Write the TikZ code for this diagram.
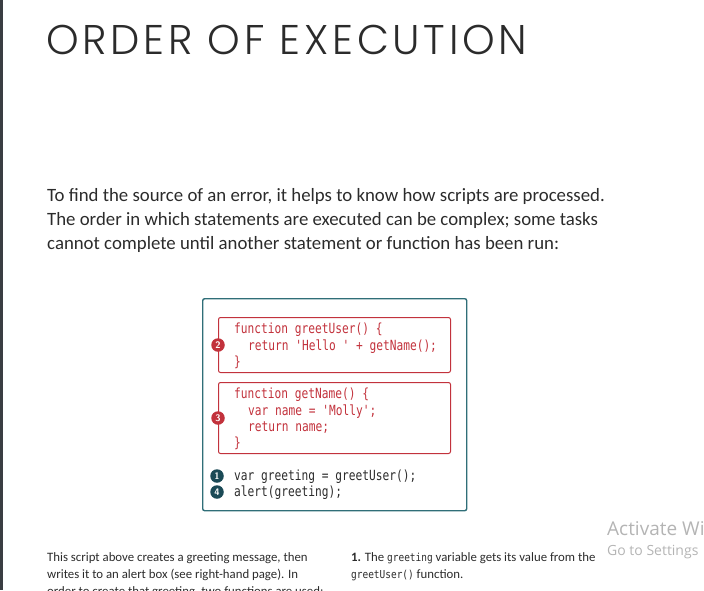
\documentclass[tikz,border=0pt]{standalone}
\usepackage{fontspec}
\setmainfont{Carlito}
\newfontfamily\titlefont{Poppins Light}[LetterSpace=9]
\newfontfamily\codefont{DejaVu Sans Mono}[FakeStretch=0.8]
\newfontfamily\notefont{DejaVu Sans Mono}[FakeStretch=0.86]
\newfontfamily\winfont{Open Sans}
\usetikzlibrary{positioning}

\definecolor{pagebar}{HTML}{3A3D42}
\definecolor{inkgray}{HTML}{2B2B2B}
\definecolor{framecol}{HTML}{2F6E78}
\definecolor{fnred}{HTML}{C2323C}
\definecolor{stepteal}{HTML}{1B4A56}
\definecolor{wingray}{HTML}{B4B4B4}

\begin{document}
\begin{tikzpicture}[
    x=1pt, y=-1pt,
    title/.style={anchor=base west, inner sep=0pt, text=inkgray, font=\titlefont\fontsize{41.5}{41.5}\selectfont},
    intro/.style={anchor=base west, inner sep=0pt, text=inkgray, font=\fontsize{18.8}{22}\selectfont},
    caption/.style={anchor=base west, inner sep=0pt, text=inkgray, font=\fontsize{12.8}{15}\selectfont},
    outerbox/.style={draw=framecol, line width=1.4pt, rounded corners=2pt, minimum width=264pt, minimum height=212pt, anchor=north west, inner sep=0pt},
    fnbox/.style={draw=fnred, line width=1pt, rounded corners=2pt, minimum width=232pt, anchor=north west, inner sep=0pt},
    stepnum/.style={circle, inner sep=0pt, minimum size=13.5pt, text=white, font=\sffamily\bfseries\fontsize{9.5}{9.5}\selectfont},
    code/.style={anchor=base west, inner sep=0pt, font=\codefont\fontsize{14}{14}\selectfont},
    watermark/.style={anchor=base west, inner sep=0pt, text=wingray, font=\winfont}
]
\useasboundingbox (0,0) rectangle (704,590);
\begin{scope}
\clip (0,0) rectangle (704,590);

% page edge
\fill[pagebar] (0,0) rectangle (3,590);

% heading and intro
\node[title] (heading) at (46,54) {ORDER OF EXECUTION};
\node[intro] (introa) at (47,201) {To find the source of an error, it helps to know how scripts are processed.};
\node[intro] (introb) at (47,225) {The order in which statements are executed can be complex; some tasks};
\node[intro] (introc) at (47,249) {cannot complete until another statement or function has been run:};

% code listing
\node[outerbox] (listing) at (202,298) {};
\node[fnbox, minimum height=55pt] (greetbox) at (218,317) {};
\node[fnbox, minimum height=71pt] (namebox) at (218,382) {};

\node[code, text=fnred] (ga) at (234,333) {function greetUser() \{};
\node[code, text=fnred] (gb) at (248,350) {return 'Hello ' + getName();};
\node[code, text=fnred] (gc) at (234,366) {\}};

\node[code, text=fnred] (na) at (234,398) {function getName() \{};
\node[code, text=fnred] (nb) at (248,415) {var name = 'Molly';};
\node[code, text=fnred] (nc) at (248,431) {return name;};
\node[code, text=fnred] (nd) at (234,447) {\}};

\node[code, text=inkgray] (va) at (234,480) {var greeting = greetUser();};
\node[code, text=inkgray] (vb) at (234,496) {alert(greeting);};

\node[stepnum, fill=fnred] (two) at (greetbox.west) {2};
\node[stepnum, fill=fnred] (three) at (namebox.west) {3};
\node[stepnum, fill=stepteal] (one) at (217,476) {1};
\node[stepnum, fill=stepteal] (four) at (217,492) {4};

% captions below
\node[caption] (capa) at (47,561) {This script above creates a greeting message, then};
\node[caption] (capb) at (47,578) {writes it to an alert box (see right-hand page). In};
\node[caption] (capc) at (47,595) {order to create that greeting, two functions are used:};
\node[caption] (notea) at (351,561) {\textbf{1.} The {\notefont\fontsize{11}{11}\selectfont greeting} variable gets its value from the};
\node[caption] (noteb) at (351,578) {{\notefont\fontsize{11}{11}\selectfont greetUser()} function.};

% screen overlay
\node[watermark, font=\winfont\fontsize{19}{19}\selectfont] (activate) at (607,535) {Activate Windows};
\node[watermark, font=\winfont\fontsize{14}{14}\selectfont] (settings) at (607,555) {Go to Settings};
\end{scope}
\end{tikzpicture}
\end{document}
